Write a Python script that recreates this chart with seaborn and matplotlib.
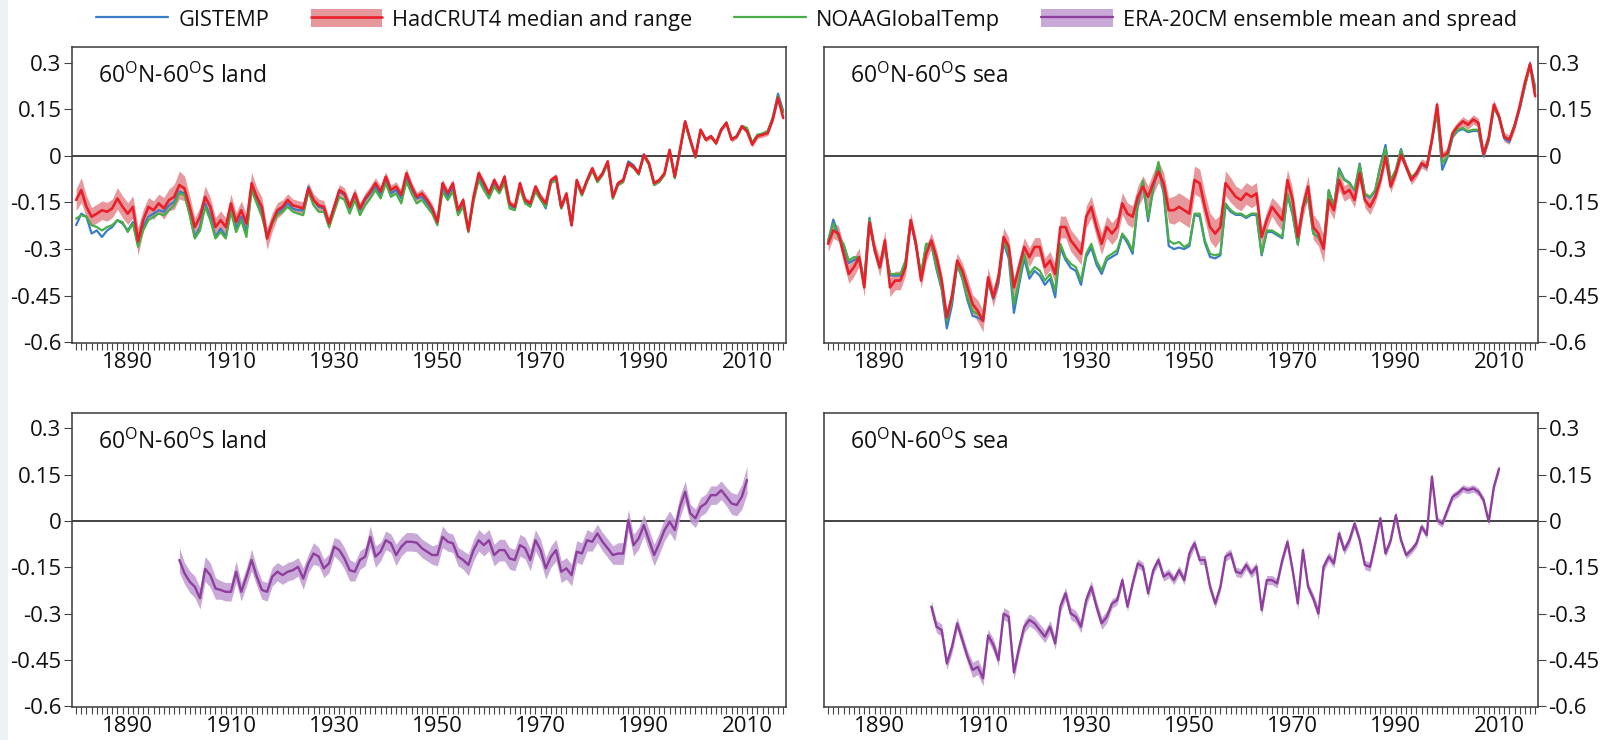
import matplotlib
matplotlib.use("Agg")
import numpy as np
import pandas as pd
import seaborn as sns
import matplotlib.pyplot as plt
from matplotlib.patches import Patch, Rectangle
from matplotlib.lines import Line2D
from matplotlib.ticker import FixedLocator, FixedFormatter, MultipleLocator

# ---------------- data ----------------
years_obs = list(range(1880, 2018))
years_era = list(range(1900, 2011))

land_had = [
    -0.142, -0.110, -0.164, -0.196, -0.186, -0.175, -0.180, -0.169, -0.137, -0.164,
    -0.186, -0.164, -0.275, -0.207, -0.164, -0.175, -0.153, -0.169, -0.142, -0.132,
    -0.094, -0.105, -0.164, -0.229, -0.196, -0.132, -0.164, -0.229, -0.207, -0.229,
    -0.153, -0.213, -0.175, -0.218, -0.088, -0.132, -0.164, -0.266, -0.213, -0.175,
    -0.164, -0.142, -0.159, -0.164, -0.169, -0.105, -0.142, -0.159, -0.164, -0.218,
    -0.164, -0.110, -0.121, -0.164, -0.121, -0.169, -0.137, -0.115, -0.088, -0.115,
    -0.067, -0.110, -0.099, -0.126, -0.056, -0.099, -0.132, -0.121, -0.142, -0.169,
    -0.213, -0.088, -0.121, -0.088, -0.175, -0.142, -0.240, -0.132, -0.056, -0.088,
    -0.121, -0.078, -0.110, -0.067, -0.153, -0.164, -0.088, -0.142, -0.153, -0.099,
    -0.132, -0.153, -0.078, -0.067, -0.164, -0.121, -0.223, -0.078, -0.121, -0.078,
    -0.040, -0.078, -0.056, -0.018, -0.132, -0.088, -0.078, -0.024, -0.035, -0.056,
    0.003, -0.024, -0.088, -0.078, -0.056, 0.019, -0.067, 0.019, 0.111, 0.052,
    -0.002, 0.084, 0.052, 0.063, 0.041, 0.084, 0.106, 0.052, 0.063, 0.095,
    0.079, 0.036, 0.063, 0.068, 0.073, 0.117, 0.187, 0.122]

land_had_rng = [
    0.035, 0.040, 0.035, 0.030, 0.030, 0.030, 0.030, 0.030, 0.035, 0.035,
    0.035, 0.035, 0.045, 0.035, 0.030, 0.030, 0.030, 0.035, 0.035, 0.040,
    0.045, 0.040, 0.035, 0.030, 0.030, 0.035, 0.030, 0.030, 0.030, 0.030,
    0.030, 0.030, 0.030, 0.030, 0.035, 0.030, 0.030, 0.035, 0.030, 0.025,
    0.022, 0.020, 0.020, 0.020, 0.020, 0.020, 0.020, 0.020, 0.020, 0.020,
    0.018, 0.018, 0.018, 0.018, 0.018, 0.018, 0.018, 0.018, 0.018, 0.018,
    0.016, 0.016, 0.016, 0.016, 0.016, 0.016, 0.015, 0.015, 0.015, 0.015,
    0.014, 0.013, 0.013, 0.013, 0.012, 0.012, 0.012, 0.012, 0.012, 0.012,
    0.011, 0.011, 0.011, 0.011, 0.011, 0.010, 0.010, 0.010, 0.010, 0.010,
    0.010, 0.010, 0.010, 0.010, 0.010, 0.010, 0.010, 0.009, 0.009, 0.009,
    0.009, 0.009, 0.009, 0.009, 0.009, 0.009, 0.009, 0.009, 0.009, 0.009,
    0.008, 0.008, 0.008, 0.008, 0.008, 0.008, 0.008, 0.008, 0.008, 0.008,
    0.008, 0.008, 0.008, 0.008, 0.008, 0.008, 0.008, 0.008, 0.008, 0.008,
    0.008, 0.008, 0.008, 0.008, 0.008, 0.008, 0.008, 0.008]

land_gis = [
    -0.223, -0.186, -0.196, -0.250, -0.240, -0.261, -0.240, -0.229, -0.207, -0.218,
    -0.240, -0.213, -0.288, -0.229, -0.196, -0.186, -0.175, -0.180, -0.159, -0.148,
    -0.115, -0.121, -0.186, -0.261, -0.229, -0.153, -0.196, -0.261, -0.234, -0.261,
    -0.170, -0.234, -0.196, -0.245, -0.099, -0.142, -0.186, -0.256, -0.213, -0.186,
    -0.170, -0.153, -0.170, -0.175, -0.175, -0.099, -0.142, -0.164, -0.170, -0.218,
    -0.164, -0.115, -0.126, -0.169, -0.126, -0.175, -0.142, -0.121, -0.099, -0.126,
    -0.078, -0.121, -0.110, -0.137, -0.072, -0.110, -0.137, -0.132, -0.153, -0.175,
    -0.213, -0.105, -0.132, -0.105, -0.180, -0.153, -0.240, -0.137, -0.067, -0.099,
    -0.126, -0.088, -0.115, -0.078, -0.159, -0.169, -0.099, -0.148, -0.159, -0.110,
    -0.137, -0.169, -0.083, -0.072, -0.169, -0.126, -0.223, -0.083, -0.126, -0.080,
    -0.045, -0.080, -0.058, -0.020, -0.135, -0.090, -0.080, -0.018, -0.030, -0.058,
    0.005, -0.026, -0.092, -0.080, -0.058, 0.017, -0.070, 0.017, 0.108, 0.050,
    -0.004, 0.082, 0.054, 0.062, 0.040, 0.086, 0.104, 0.055, 0.060, 0.092,
    0.085, 0.040, 0.065, 0.070, 0.078, 0.125, 0.200, 0.145]

land_noaa = [
    -0.202, -0.191, -0.196, -0.223, -0.229, -0.240, -0.229, -0.223, -0.207, -0.213,
    -0.245, -0.218, -0.293, -0.240, -0.207, -0.196, -0.186, -0.191, -0.175, -0.159,
    -0.121, -0.126, -0.191, -0.266, -0.240, -0.164, -0.207, -0.266, -0.245, -0.266,
    -0.180, -0.245, -0.207, -0.261, -0.110, -0.153, -0.196, -0.261, -0.218, -0.191,
    -0.180, -0.164, -0.180, -0.186, -0.191, -0.115, -0.159, -0.180, -0.180, -0.229,
    -0.180, -0.132, -0.142, -0.186, -0.142, -0.191, -0.159, -0.137, -0.110, -0.137,
    -0.088, -0.132, -0.121, -0.153, -0.083, -0.121, -0.153, -0.142, -0.164, -0.186,
    -0.223, -0.115, -0.142, -0.115, -0.191, -0.164, -0.245, -0.148, -0.078, -0.110,
    -0.137, -0.099, -0.121, -0.088, -0.169, -0.175, -0.105, -0.153, -0.164, -0.115,
    -0.142, -0.164, -0.088, -0.078, -0.169, -0.126, -0.223, -0.086, -0.128, -0.085,
    -0.048, -0.085, -0.062, -0.025, -0.138, -0.094, -0.084, -0.026, -0.038, -0.060,
    0.000, -0.030, -0.094, -0.084, -0.062, 0.014, -0.072, 0.015, 0.105, 0.046,
    -0.006, 0.080, 0.052, 0.060, 0.040, 0.084, 0.108, 0.056, 0.062, 0.096,
    0.090, 0.042, 0.068, 0.072, 0.080, 0.122, 0.192, 0.140]

sea_had = [
    -0.283, -0.240, -0.250, -0.315, -0.380, -0.358, -0.326, -0.423, -0.215, -0.300,
    -0.358, -0.272, -0.423, -0.401, -0.401, -0.358, -0.207, -0.283, -0.401, -0.315,
    -0.272, -0.326, -0.401, -0.520, -0.450, -0.337, -0.369, -0.423, -0.477, -0.499,
    -0.531, -0.391, -0.455, -0.391, -0.261, -0.293, -0.423, -0.358, -0.293, -0.326,
    -0.293, -0.293, -0.358, -0.337, -0.380, -0.229, -0.229, -0.272, -0.293, -0.315,
    -0.196, -0.164, -0.229, -0.283, -0.229, -0.250, -0.229, -0.153, -0.186, -0.196,
    -0.132, -0.099, -0.132, -0.088, -0.051, -0.088, -0.175, -0.175, -0.164, -0.175,
    -0.186, -0.078, -0.088, -0.164, -0.229, -0.250, -0.229, -0.088, -0.110, -0.132,
    -0.142, -0.121, -0.132, -0.121, -0.261, -0.207, -0.164, -0.186, -0.207, -0.078,
    -0.142, -0.261, -0.164, -0.099, -0.229, -0.250, -0.299, -0.142, -0.175, -0.078,
    -0.121, -0.110, -0.142, -0.056, -0.142, -0.164, -0.132, -0.078, -0.002, -0.099,
    -0.056, 0.003, -0.035, -0.078, -0.056, -0.024, -0.035, 0.052, 0.165, -0.002,
    0.009, 0.073, 0.095, 0.111, 0.100, 0.117, 0.106, 0.005, 0.060, 0.165,
    0.125, 0.060, 0.052, 0.095, 0.160, 0.235, 0.295, 0.192]

sea_had_rng = [
    0.025, 0.025, 0.025, 0.030, 0.030, 0.030, 0.030, 0.030, 0.030, 0.025,
    0.030, 0.030, 0.030, 0.030, 0.030, 0.025, 0.025, 0.025, 0.025, 0.025,
    0.025, 0.025, 0.025, 0.025, 0.025, 0.025, 0.025, 0.030, 0.030, 0.035,
    0.035, 0.030, 0.030, 0.030, 0.030, 0.030, 0.030, 0.030, 0.030, 0.030,
    0.030, 0.030, 0.030, 0.030, 0.030, 0.035, 0.035, 0.035, 0.035, 0.035,
    0.035, 0.035, 0.035, 0.035, 0.035, 0.035, 0.035, 0.035, 0.035, 0.035,
    0.035, 0.035, 0.035, 0.035, 0.035, 0.035, 0.040, 0.045, 0.045, 0.045,
    0.045, 0.045, 0.045, 0.045, 0.045, 0.045, 0.040, 0.040, 0.040, 0.035,
    0.035, 0.035, 0.035, 0.035, 0.030, 0.030, 0.030, 0.035, 0.035, 0.035,
    0.035, 0.035, 0.035, 0.035, 0.040, 0.040, 0.045, 0.030, 0.030, 0.030,
    0.025, 0.025, 0.025, 0.025, 0.025, 0.025, 0.020, 0.020, 0.020, 0.020,
    0.015, 0.015, 0.015, 0.015, 0.015, 0.015, 0.015, 0.015, 0.015, 0.015,
    0.015, 0.015, 0.015, 0.015, 0.015, 0.015, 0.015, 0.015, 0.015, 0.015,
    0.015, 0.015, 0.015, 0.015, 0.015, 0.015, 0.015, 0.015]

sea_gis = [
    -0.275, -0.205, -0.255, -0.290, -0.345, -0.335, -0.330, -0.405, -0.200, -0.305,
    -0.360, -0.290, -0.385, -0.385, -0.385, -0.340, -0.210, -0.285, -0.385, -0.285,
    -0.285, -0.365, -0.430, -0.555, -0.480, -0.350, -0.395, -0.465, -0.515, -0.520,
    -0.530, -0.405, -0.460, -0.410, -0.280, -0.330, -0.505, -0.415, -0.330, -0.395,
    -0.370, -0.385, -0.415, -0.395, -0.455, -0.295, -0.335, -0.360, -0.370, -0.415,
    -0.325, -0.295, -0.350, -0.380, -0.335, -0.325, -0.315, -0.255, -0.280, -0.315,
    -0.160, -0.085, -0.210, -0.105, -0.030, -0.120, -0.290, -0.300, -0.295, -0.300,
    -0.290, -0.190, -0.195, -0.280, -0.325, -0.330, -0.320, -0.160, -0.180, -0.190,
    -0.190, -0.200, -0.190, -0.190, -0.320, -0.245, -0.245, -0.255, -0.265, -0.125,
    -0.190, -0.285, -0.165, -0.135, -0.250, -0.262, -0.295, -0.112, -0.165, -0.040,
    -0.075, -0.086, -0.112, -0.025, -0.124, -0.135, -0.112, -0.032, 0.035, -0.080,
    -0.048, 0.022, -0.038, -0.070, -0.060, -0.028, -0.038, 0.050, 0.140, -0.045,
    -0.006, 0.060, 0.080, 0.086, 0.076, 0.080, 0.080, -0.002, 0.048, 0.155,
    0.125, 0.055, 0.045, 0.095, 0.150, 0.222, 0.298, 0.222]

sea_noaa = [
    -0.272, -0.218, -0.261, -0.283, -0.337, -0.326, -0.326, -0.401, -0.205, -0.300,
    -0.358, -0.293, -0.380, -0.380, -0.380, -0.337, -0.207, -0.283, -0.380, -0.283,
    -0.283, -0.358, -0.423, -0.530, -0.466, -0.347, -0.391, -0.455, -0.499, -0.509,
    -0.520, -0.401, -0.455, -0.401, -0.272, -0.315, -0.477, -0.401, -0.315, -0.380,
    -0.358, -0.369, -0.401, -0.380, -0.434, -0.283, -0.326, -0.347, -0.358, -0.401,
    -0.315, -0.283, -0.337, -0.369, -0.326, -0.315, -0.304, -0.250, -0.272, -0.304,
    -0.150, -0.080, -0.200, -0.100, -0.020, -0.110, -0.272, -0.283, -0.277, -0.293,
    -0.283, -0.186, -0.186, -0.272, -0.315, -0.320, -0.315, -0.153, -0.175, -0.186,
    -0.186, -0.196, -0.186, -0.186, -0.315, -0.240, -0.240, -0.250, -0.261, -0.121,
    -0.186, -0.283, -0.164, -0.132, -0.250, -0.261, -0.293, -0.110, -0.164, -0.045,
    -0.078, -0.088, -0.110, -0.029, -0.121, -0.132, -0.110, -0.035, 0.025, -0.078,
    -0.045, 0.019, -0.035, -0.067, -0.056, -0.024, -0.035, 0.052, 0.138, -0.024,
    -0.002, 0.063, 0.084, 0.090, 0.079, 0.084, 0.084, 0.003, 0.052, 0.154,
    0.127, 0.063, 0.052, 0.100, 0.154, 0.224, 0.289, 0.214]

era_land = [
    -0.126, -0.169, -0.196, -0.213, -0.250, -0.155, -0.175, -0.218, -0.223, -0.229,
    -0.229, -0.164, -0.229, -0.180, -0.126, -0.180, -0.223, -0.229, -0.180, -0.164,
    -0.175, -0.164, -0.159, -0.148, -0.186, -0.137, -0.105, -0.115, -0.153, -0.137,
    -0.083, -0.094, -0.121, -0.159, -0.164, -0.126, -0.115, -0.051, -0.115, -0.099,
    -0.062, -0.072, -0.110, -0.083, -0.067, -0.067, -0.070, -0.088, -0.099, -0.110,
    -0.110, -0.051, -0.067, -0.072, -0.115, -0.126, -0.142, -0.094, -0.062, -0.078,
    -0.062, -0.110, -0.094, -0.094, -0.121, -0.126, -0.078, -0.088, -0.126, -0.062,
    -0.094, -0.153, -0.115, -0.094, -0.164, -0.153, -0.175, -0.099, -0.105, -0.062,
    -0.067, -0.040, -0.067, -0.088, -0.110, -0.105, -0.105, 0.003, -0.078, -0.056,
    -0.013, -0.062, -0.110, -0.072, -0.029, -0.002, -0.029, 0.046, 0.095, 0.025,
    0.009, 0.046, 0.057, 0.084, 0.084, 0.100, 0.079, 0.057, 0.052, 0.079,
    0.133]

era_land_spread = [
    0.040, 0.035, 0.035, 0.035, 0.035, 0.040, 0.040, 0.035, 0.030, 0.030,
    0.030, 0.035, 0.030, 0.030, 0.035, 0.030, 0.030, 0.030, 0.030, 0.030,
    0.030, 0.030, 0.030, 0.030, 0.035, 0.030, 0.035, 0.030, 0.030, 0.030,
    0.030, 0.035, 0.035, 0.035, 0.030, 0.030, 0.030, 0.035, 0.035, 0.030,
    0.030, 0.030, 0.035, 0.030, 0.030, 0.030, 0.030, 0.030, 0.030, 0.030,
    0.035, 0.035, 0.030, 0.030, 0.030, 0.030, 0.035, 0.035, 0.035, 0.035,
    0.035, 0.035, 0.035, 0.035, 0.035, 0.035, 0.035, 0.035, 0.035, 0.035,
    0.035, 0.035, 0.035, 0.035, 0.035, 0.035, 0.035, 0.035, 0.035, 0.035,
    0.030, 0.030, 0.030, 0.030, 0.030, 0.035, 0.035, 0.035, 0.035, 0.035,
    0.035, 0.035, 0.035, 0.035, 0.035, 0.035, 0.035, 0.035, 0.035, 0.030,
    0.030, 0.030, 0.030, 0.030, 0.030, 0.030, 0.030, 0.035, 0.035, 0.040,
    0.045]

era_sea = [
    -0.277, -0.342, -0.353, -0.461, -0.407, -0.331, -0.385, -0.439, -0.482, -0.472,
    -0.509, -0.370, -0.400, -0.450, -0.300, -0.310, -0.490, -0.410, -0.342, -0.320,
    -0.331, -0.353, -0.374, -0.342, -0.396, -0.277, -0.234, -0.299, -0.310, -0.342,
    -0.256, -0.213, -0.277, -0.331, -0.310, -0.267, -0.256, -0.191, -0.277, -0.202,
    -0.137, -0.148, -0.234, -0.159, -0.126, -0.180, -0.169, -0.191, -0.159, -0.191,
    -0.105, -0.072, -0.126, -0.126, -0.213, -0.267, -0.213, -0.115, -0.105, -0.164,
    -0.169, -0.142, -0.169, -0.148, -0.288, -0.191, -0.191, -0.202, -0.126, -0.067,
    -0.159, -0.267, -0.094, -0.213, -0.250, -0.299, -0.148, -0.115, -0.137, -0.040,
    -0.094, -0.062, -0.008, -0.062, -0.142, -0.148, -0.072, 0.009, -0.105, -0.062,
    0.019, -0.062, -0.110, -0.094, -0.072, -0.018, -0.045, 0.144, 0.003, -0.008,
    0.036, 0.079, 0.090, 0.106, 0.100, 0.106, 0.095, 0.068, -0.002, 0.111,
    0.170]

era_sea_spread = [
    0.020, 0.020, 0.020, 0.020, 0.020, 0.020, 0.020, 0.020, 0.025, 0.025,
    0.025, 0.020, 0.020, 0.020, 0.020, 0.020, 0.025, 0.020, 0.020, 0.020,
    0.020, 0.020, 0.020, 0.020, 0.020, 0.020, 0.020, 0.020, 0.020, 0.020,
    0.020, 0.020, 0.020, 0.020, 0.020, 0.015, 0.015, 0.015, 0.015, 0.015,
    0.015, 0.015, 0.015, 0.015, 0.015, 0.015, 0.015, 0.015, 0.015, 0.015,
    0.020, 0.015, 0.015, 0.015, 0.015, 0.015, 0.015, 0.015, 0.015, 0.015,
    0.015, 0.015, 0.015, 0.015, 0.020, 0.015, 0.015, 0.015, 0.015, 0.015,
    0.015, 0.020, 0.015, 0.015, 0.015, 0.020, 0.015, 0.015, 0.015, 0.015,
    0.015, 0.015, 0.015, 0.015, 0.015, 0.015, 0.015, 0.012, 0.012, 0.012,
    0.012, 0.012, 0.012, 0.012, 0.012, 0.012, 0.012, 0.012, 0.012, 0.012,
    0.012, 0.012, 0.012, 0.012, 0.012, 0.012, 0.012, 0.012, 0.012, 0.012,
    0.012]

panel_titles = [r"60$^{\mathrm{O}}$N-60$^{\mathrm{O}}$S land",
                r"60$^{\mathrm{O}}$N-60$^{\mathrm{O}}$S sea"]
legend_labels = ["GISTEMP", "HadCRUT4 median and range", "NOAAGlobalTemp",
                 "ERA-20CM ensemble mean and spread"]
ytick_values = [0.3, 0.15, 0.0, -0.15, -0.3, -0.45, -0.6]
ytick_labels = ["0.3", "0.15", "0", "-0.15", "-0.3", "-0.45", "-0.6"]
xtick_values = [1890, 1910, 1930, 1950, 1970, 1990, 2010]
xtick_labels = ["1890", "1910", "1930", "1950", "1970", "1990", "2010"]

# ---------------- style ----------------
C_GIS = "#3a7cc6"
C_HAD = "#e8202a"
C_HAD_BAND = "#e3868b"
C_NOAA = "#4aae48"
C_ERA = "#8e3f9e"
C_ERA_BAND = "#c09ad0"

sns.set_theme(style="white")
plt.rcParams["font.family"] = ["Open Sans", "DejaVu Sans"]
plt.rcParams["mathtext.fontset"] = "custom"
plt.rcParams["mathtext.rm"] = "Open Sans"
plt.rcParams["mathtext.it"] = "Open Sans:italic"
plt.rcParams["mathtext.bf"] = "Open Sans:bold"
plt.rcParams["axes.unicode_minus"] = False

W, H = 1604, 740
fig = plt.figure(figsize=(W / 100, H / 100), dpi=100)
fig.patch.set_facecolor("white")
fig.patches.append(Rectangle((0, 0), 8 / W, 1, transform=fig.transFigure,
                             facecolor="#eef2f6", edgecolor="none", zorder=-5))

def box(x0, y_top, x1, y_bot):
    return [x0 / W, 1 - y_bot / H, (x1 - x0) / W, (y_bot - y_top) / H]

ax_tl = fig.add_axes(box(72, 47, 786, 343))
ax_tr = fig.add_axes(box(824, 47, 1538, 343))
ax_bl = fig.add_axes(box(72, 413, 786, 707))
ax_br = fig.add_axes(box(824, 413, 1538, 707))


def style(ax, right, title):
    ax.set_xlim(1879.2, 2017.55)
    ax.set_ylim(-0.602, 0.35)
    ax.axhline(0, color="#111111", lw=1.1, zorder=1)
    for sp in ax.spines.values():
        sp.set_visible(True)
        sp.set_color("#3a3a3a")
        sp.set_linewidth(1.1)
    ax.xaxis.set_major_locator(FixedLocator(xtick_values))
    ax.xaxis.set_major_formatter(FixedFormatter(xtick_labels))
    ax.xaxis.set_minor_locator(MultipleLocator(1))
    ax.yaxis.set_major_locator(FixedLocator(ytick_values))
    ax.yaxis.set_major_formatter(FixedFormatter(ytick_labels))
    ax.tick_params(axis="x", which="both", direction="out", length=5, width=0.8,
                   color="#444444", bottom=True, top=False, labelsize=16, pad=1.5,
                   labelcolor="#111111")
    ax.tick_params(axis="y", which="major", direction="out", length=6, width=0.8,
                   color="#444444", labelsize=16, pad=1.5, labelcolor="#111111",
                   left=not right, right=right, labelleft=not right,
                   labelright=right)
    ax.set_xlabel("")
    ax.set_ylabel("")
    ax.grid(False)
    ax.text(0.037, 0.90, title, transform=ax.transAxes, fontsize=16.5,
            ha="left", va="center", color="#111111")


def obs_panel(ax, had, rng, gis, noaa):
    df = pd.DataFrame({"year": years_obs, "had": had, "rng": rng,
                       "gis": gis, "noaa": noaa})
    ax.fill_between(df["year"], df["had"] - df["rng"], df["had"] + df["rng"],
                    color=C_HAD_BAND, alpha=0.85, lw=0, zorder=2)
    sns.lineplot(data=df, x="year", y="gis", ax=ax, color=C_GIS, lw=1.6, zorder=3)
    sns.lineplot(data=df, x="year", y="noaa", ax=ax, color=C_NOAA, lw=1.6, zorder=3)
    sns.lineplot(data=df, x="year", y="had", ax=ax, color=C_HAD, lw=1.9, zorder=4)


def era_panel(ax, mean, spread):
    df = pd.DataFrame({"year": years_era, "mean": mean, "spread": spread})
    ax.fill_between(df["year"], df["mean"] - df["spread"], df["mean"] + df["spread"],
                    color=C_ERA_BAND, alpha=0.85, lw=0, zorder=2)
    sns.lineplot(data=df, x="year", y="mean", ax=ax, color=C_ERA, lw=1.7, zorder=4)


obs_panel(ax_tl, land_had, land_had_rng, land_gis, land_noaa)
obs_panel(ax_tr, sea_had, sea_had_rng, sea_gis, sea_noaa)
era_panel(ax_bl, era_land, era_land_spread)
era_panel(ax_br, era_sea, era_sea_spread)

style(ax_tl, False, panel_titles[0])
style(ax_tr, True, panel_titles[1])
style(ax_bl, False, panel_titles[0])
style(ax_br, True, panel_titles[1])

handles = [
    Line2D([], [], color=C_GIS, lw=1.6),
    (Patch(facecolor=C_HAD_BAND, edgecolor="none", alpha=0.85), Line2D([], [], color=C_HAD, lw=1.9)),
    Line2D([], [], color=C_NOAA, lw=1.6),
    (Patch(facecolor=C_ERA_BAND, edgecolor="none", alpha=0.85), Line2D([], [], color=C_ERA, lw=1.7)),
]
fig.legend(handles, legend_labels, loc="center", bbox_to_anchor=(0.503, 1 - 20 / H),
           ncol=4, frameon=False, fontsize=15.7, handlelength=3.3,
           handleheight=0.86, handletextpad=0.45, columnspacing=1.9,
           borderpad=0, borderaxespad=0, labelcolor="#111111")

fig.savefig("out.png", dpi=100, facecolor="white")
